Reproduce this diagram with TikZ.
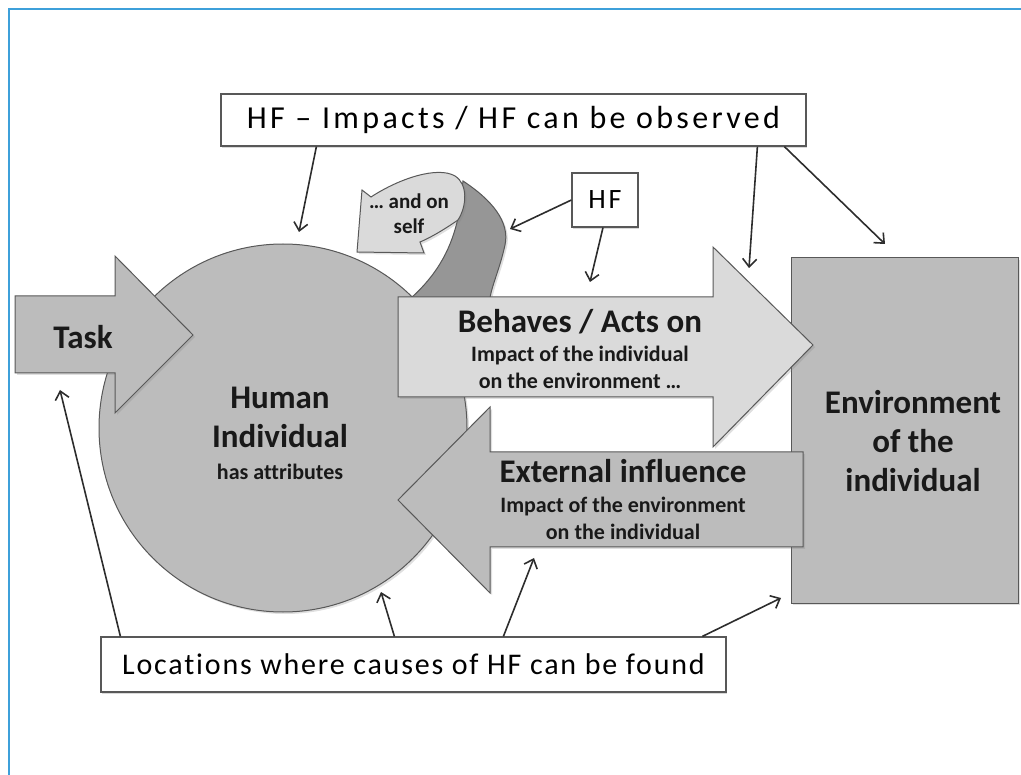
\documentclass[tikz,border=0pt]{standalone}
\usepackage{fontspec}
\setmainfont{Carlito}[Ligatures={TeX,NoCommon}]
\newfontfamily\obsfont[LetterSpace=10.5,Ligatures={TeX,NoCommon}]{Carlito}
\newfontfamily\locfont[LetterSpace=6,Ligatures={TeX,NoCommon}]{Carlito}
\usetikzlibrary{arrows.meta,shadows}

\definecolor{framecol}{RGB}{62,160,218}
\definecolor{shapegray}{RGB}{188,188,188}
\definecolor{lightgray2}{RGB}{218,218,218}
\definecolor{bandgray}{RGB}{150,150,150}
\definecolor{edgegray}{RGB}{88,88,88}
\definecolor{linegray}{RGB}{45,45,45}

\newcommand\labelbig{\fontsize{33}{39}\selectfont\bfseries}
\newcommand\labelsmall{\fontsize{22}{27}\selectfont\bfseries}
\newcommand\labelself{\fontsize{21}{25}\selectfont\bfseries}

\tikzset{
  blob/.style={fill=shapegray, draw=edgegray, line width=1pt,
    drop shadow={opacity=0.25, shadow xshift=2pt, shadow yshift=-2pt}},
  paleblob/.style={blob, fill=lightgray2},
  textbox/.style={draw=edgegray, fill=white, line width=1.2pt, inner sep=0pt,
    drop shadow={opacity=0.3, shadow xshift=1pt, shadow yshift=-2pt}},
  pointer/.style={draw=linegray, line width=1.6pt,
    -{Straight Barb[length=8pt,width=14pt,line width=1.6pt]}},
  words/.style={align=center, text=black!90, inner sep=0pt}
}

\begin{document}
\begin{tikzpicture}[x=1pt,y=-1pt]
\useasboundingbox (0,0) rectangle (1021,775);
% frame of the slide
\draw[framecol, line width=1.5pt] (9,775) -- (9,9) -- (1021,9);

% the individual
\node[blob, circle, minimum size=368pt, inner sep=0pt] (human) at (283,428) {};
\node[words, font=\labelsmall] (humanlbl) at (280,433)
  {\labelbig Human\\[12pt]\labelbig Individual\\[5pt]has attributes};

% environment
\node[blob, minimum width=227pt, minimum height=345pt, inner sep=0pt] (env) at (904.5,430.5) {};
\node[words, font=\labelbig] (envlbl) at (913,441) {Environment\\of the\\individual};

% curved arrow back onto the individual
\draw[blob, fill=bandgray] (411,298) .. controls (440,272) and (452,245) .. (458,218)
  -- (463,181) .. controls (492,200) and (510,222) .. (505,245)
  .. controls (500,268) and (492,285) .. (490,298) -- cycle;
\draw[paleblob] (357,252) -- (362,190) -- (371,197)
  .. controls (400,178) and (438,166) .. (455,176)
  .. controls (468,184) and (467,206) .. (458,220)
  .. controls (445,229) and (430,238) .. (420,242) -- (424,253) -- cycle;
\node[words, font=\labelself] (self) at (409,214) {… and on\\self};

% task
\draw[blob] (15,296) -- (115,296) -- (115,256) -- (193,335) -- (115,413)
  -- (115,373) -- (15,373) -- cycle;
\node[words, font=\labelbig] (task) at (83,337) {Task};

% behaves / acts on
\draw[paleblob] (398,297) -- (713,297) -- (713,247) -- (813,345) -- (713,447)
  -- (713,397) -- (398,397) -- cycle;
\node[words, font=\labelsmall] (behaves) at (580,349)
  {\labelbig Behaves / Acts on\\[2pt]Impact of the individual\\on the environment …};

% external influence
\draw[blob] (803,452) -- (490,452) -- (490,407) -- (398,500) -- (490,593)
  -- (490,547) -- (803,547) -- cycle;
\node[words, font=\labelsmall] (external) at (623,500)
  {\labelbig External influence\\[3pt]Impact of the environment\\on the individual};

% text boxes
\node[textbox, minimum width=585pt, minimum height=52pt, font=\obsfont\fontsize{32}{38}\selectfont] (obs) at (513.5,120)
  {HF – Impacts / HF can be observed};
\node[textbox, minimum width=66pt, minimum height=54pt, font=\obsfont\fontsize{28}{34}\selectfont] (hf) at (605,200)
  {HF};
\node[textbox, minimum width=625pt, minimum height=55pt, font=\locfont\fontsize{30}{36}\selectfont] (loc) at (413.5,664.5)
  {Locations where causes of HF can be found};

% arrow targets
\coordinate (humantop) at (299,232);
\coordinate (behavestop) at (749,268);
\coordinate (envtop) at (885,244);
\coordinate (selfband) at (510,229);
\coordinate (behavesbody) at (590,282);
\coordinate (taskbottom) at (60,390);
\coordinate (humanbottom) at (381,592);
\coordinate (externalbottom) at (534,558);
\coordinate (envbottom) at (781,598);

% pointers
\draw[pointer] ([xshift=96pt]obs.south west) -- (humantop);
\draw[pointer] ([xshift=537pt]obs.south west) -- (behavestop);
\draw[pointer] ([xshift=564pt]obs.south west) -- (envtop);
\draw[pointer] (hf.west) -- (selfband);
\draw[pointer] ([xshift=-2pt]hf.south) -- (behavesbody);
\draw[pointer] ([xshift=20pt]loc.north west) -- (taskbottom);
\draw[pointer] ([xshift=294pt]loc.north west) -- (humanbottom);
\draw[pointer] ([xshift=403pt]loc.north west) -- (externalbottom);
\draw[pointer] ([xshift=602pt]loc.north west) -- (envbottom);
\end{tikzpicture}
\end{document}
